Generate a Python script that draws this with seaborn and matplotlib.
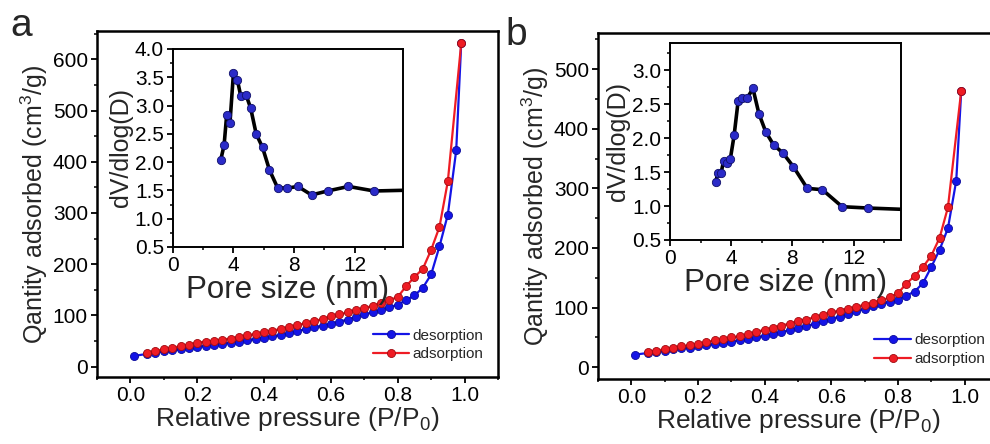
import matplotlib
matplotlib.use("Agg")
import matplotlib.pyplot as plt
import seaborn as sns
import pandas as pd
from matplotlib.ticker import MultipleLocator

# ---------------- data ----------------
# panel a isotherm
pa_ads_x = [0.05, 0.075, 0.10, 0.125, 0.15, 0.175, 0.20, 0.225, 0.25, 0.275, 0.30, 0.325, 0.35, 0.375,
            0.40, 0.425, 0.45, 0.475, 0.50, 0.525, 0.55, 0.575, 0.60, 0.625, 0.65, 0.675, 0.70, 0.725,
            0.75, 0.775, 0.80, 0.825, 0.85, 0.875, 0.90, 0.925, 0.95, 0.99]
pa_ads_y = [27, 31, 34, 37, 40, 43, 47, 49, 51, 53, 55, 58, 61, 64,
            67, 70, 74, 77, 81, 85, 89, 93, 98, 102, 106, 110, 114, 119,
            124, 130, 136, 157, 175, 191, 228, 273, 362, 631]
pa_des_x = [0.01, 0.05, 0.075, 0.10, 0.125, 0.15, 0.175, 0.20, 0.225, 0.25, 0.275, 0.30, 0.325, 0.35,
            0.375, 0.40, 0.425, 0.45, 0.475, 0.50, 0.525, 0.55, 0.575, 0.60, 0.625, 0.65, 0.675, 0.70,
            0.725, 0.75, 0.775, 0.80, 0.825, 0.85, 0.875, 0.90, 0.925, 0.95, 0.975, 0.99]
pa_des_y = [21, 25, 27, 30, 32, 34, 37, 39, 41, 43, 45, 47, 49, 52,
            54, 57, 59, 62, 65, 70, 73, 77, 80, 84, 88, 92, 97, 102,
            106, 111, 116, 121, 130, 139, 154, 180, 235, 297, 422, 631]

# panel a pore size distribution
pa_pore_x = [3.16, 3.38, 3.55, 3.77, 4.00, 4.26, 4.48, 4.83, 5.14, 5.50, 5.92, 6.38, 6.91,
             7.53, 8.26, 9.16, 10.22, 11.6, 13.3, 16.5]
pa_pore_y = [2.04, 2.30, 2.83, 2.70, 3.58, 3.45, 3.17, 3.19, 2.95, 2.50, 2.26, 1.86, 1.55,
             1.54, 1.57, 1.42, 1.49, 1.57, 1.49, 1.51]

# panel b isotherm
pb_ads_x = pa_ads_x
pb_ads_y = [25, 28, 30, 33, 35, 37, 39, 42, 45, 47, 50, 52, 55, 59,
            63, 66, 70, 73, 77, 80, 84, 88, 92, 95, 98, 101, 105, 108,
            112, 117, 124, 140, 153, 168, 187, 217, 268, 464]
pb_des_x = pa_des_x
pb_des_y = [21, 24, 26, 28, 30, 32, 33, 35, 37, 39, 41, 43, 45, 48,
            50, 53, 56, 59, 62, 66, 69, 73, 77, 81, 85, 89, 94, 98,
            102, 106, 110, 113, 120, 127, 141, 168, 197, 233, 313, 464]

# panel b pore size distribution
pb_pore_x = [2.99, 3.12, 3.33, 3.50, 3.72, 3.94, 4.19, 4.45, 4.73, 5.05, 5.42, 5.81, 6.26,
             6.77, 7.38, 8.06, 8.97, 9.96, 11.25, 12.97, 16.5]
pb_pore_y = [1.35, 1.48, 1.48, 1.66, 1.64, 1.69, 2.04, 2.54, 2.59, 2.59, 2.73, 2.36, 2.09,
             1.90, 1.78, 1.58, 1.26, 1.24, 0.99, 0.97, 0.94]

# ---------------- style ----------------
sns.set_theme(style="ticks")
plt.rcParams['font.family'] = ['Liberation Sans', 'DejaVu Sans']
plt.rcParams['mathtext.fontset'] = 'custom'
plt.rcParams['mathtext.rm'] = 'Liberation Sans'
plt.rcParams['mathtext.it'] = 'Liberation Sans'
plt.rcParams['mathtext.default'] = 'regular'

BLUE = '#1414e6'
BLUE_EDGE = '#0a0a9a'
RED = '#ee1c24'
RED_EDGE = '#a00a10'
PORE_BALL = '#2b2bc8'

fig = plt.figure(figsize=(9.9, 4.44), dpi=100)


def style_axes(ax, lw=1.6, tick_size=12):
    for s in ax.spines.values():
        s.set_linewidth(lw)
        s.set_color('black')
        s.set_visible(True)
    ax.tick_params(which='major', direction='out', length=4.5, width=1.3, labelsize=tick_size,
                   colors='black', pad=2)
    ax.tick_params(which='minor', direction='out', length=2.5, width=1.1, colors='black')
    ax.grid(False)
    ax.set_facecolor('white')


def main_panel(rect, des_x, des_y, ads_x, ads_y, ylim, ymax_tick, leg_anchor):
    ax = fig.add_axes(rect)
    sns.lineplot(x=des_x, y=des_y, ax=ax, color=BLUE, marker='o', markersize=5.8,
                 markerfacecolor=BLUE, markeredgecolor=BLUE_EDGE, markeredgewidth=0.6,
                 linewidth=1.6, label='desorption', estimator=None, sort=False)
    sns.lineplot(x=ads_x, y=ads_y, ax=ax, color=RED, marker='o', markersize=5.8,
                 markerfacecolor=RED, markeredgecolor=RED_EDGE, markeredgewidth=0.6,
                 linewidth=1.6, label='adsorption', estimator=None, sort=False)
    ax.set_xlim(-0.1, 1.1)
    ax.set_ylim(*ylim)
    ax.set_xticks([0.0, 0.2, 0.4, 0.6, 0.8, 1.0])
    ax.xaxis.set_minor_locator(MultipleLocator(0.1))
    ax.set_yticks(list(range(0, ymax_tick + 1, 100)))
    ax.yaxis.set_minor_locator(MultipleLocator(50))
    style_axes(ax, lw=1.8, tick_size=15)
    ax.set_xlabel('Relative pressure (P/P$_0$)', fontsize=19, labelpad=0)
    ax.set_ylabel('Qantity adsorbed (cm$^3$/g)', fontsize=18, labelpad=2)
    ax.legend(loc='lower right', bbox_to_anchor=leg_anchor, bbox_transform=fig.transFigure,
              frameon=False, fontsize=11, handlelength=2.4, handletextpad=0.2,
              labelspacing=0.3, borderpad=0, borderaxespad=0)
    return ax


def inset_panel(rect, px, py, xlim, ylim, yticks):
    ax = fig.add_axes(rect)
    sns.lineplot(x=px, y=py, ax=ax, color='black', linewidth=2.6, marker='o', markersize=6,
                 markerfacecolor=PORE_BALL, markeredgecolor='#10106a', markeredgewidth=0.6,
                 estimator=None, sort=False)
    ax.set_xlim(*xlim)
    ax.set_ylim(*ylim)
    ax.set_xticks([0, 4, 8, 12])
    ax.xaxis.set_minor_locator(MultipleLocator(2))
    ax.set_yticks(yticks)
    ax.yaxis.set_minor_locator(MultipleLocator(0.25))
    style_axes(ax, lw=1.4, tick_size=15)
    ax.set_xlabel('Pore size (nm)', fontsize=22.5, labelpad=0)
    ax.set_ylabel('dV/dlog(D)', fontsize=18, labelpad=1)
    return ax


# panel a
main_panel([0.098, 0.151, 0.405, 0.779], pa_des_x, pa_des_y, pa_ads_x, pa_ads_y,
           (-20, 655), 600, (0.488, 0.186))
inset_panel([0.1747, 0.4437, 0.2323, 0.446], pa_pore_x, pa_pore_y, (0, 15.2), (0.5, 4.0),
            [0.5, 1.0, 1.5, 2.0, 2.5, 3.0, 3.5, 4.0])

# panel b
main_panel([0.604, 0.146, 0.404, 0.779], pb_des_x, pb_des_y, pb_ads_x, pb_ads_y,
           (-20, 560), 500, (0.995, 0.176))
inset_panel([0.6768, 0.4595, 0.2333, 0.4437], pb_pore_x, pb_pore_y, (0, 15.1), (0.5, 3.4),
            [0.5, 1.0, 1.5, 2.0, 2.5, 3.0])

fig.text(0.010, 0.92, 'a', fontsize=28)
fig.text(0.511, 0.898, 'b', fontsize=28)

fig.savefig('out.png', dpi=100, facecolor='white')
